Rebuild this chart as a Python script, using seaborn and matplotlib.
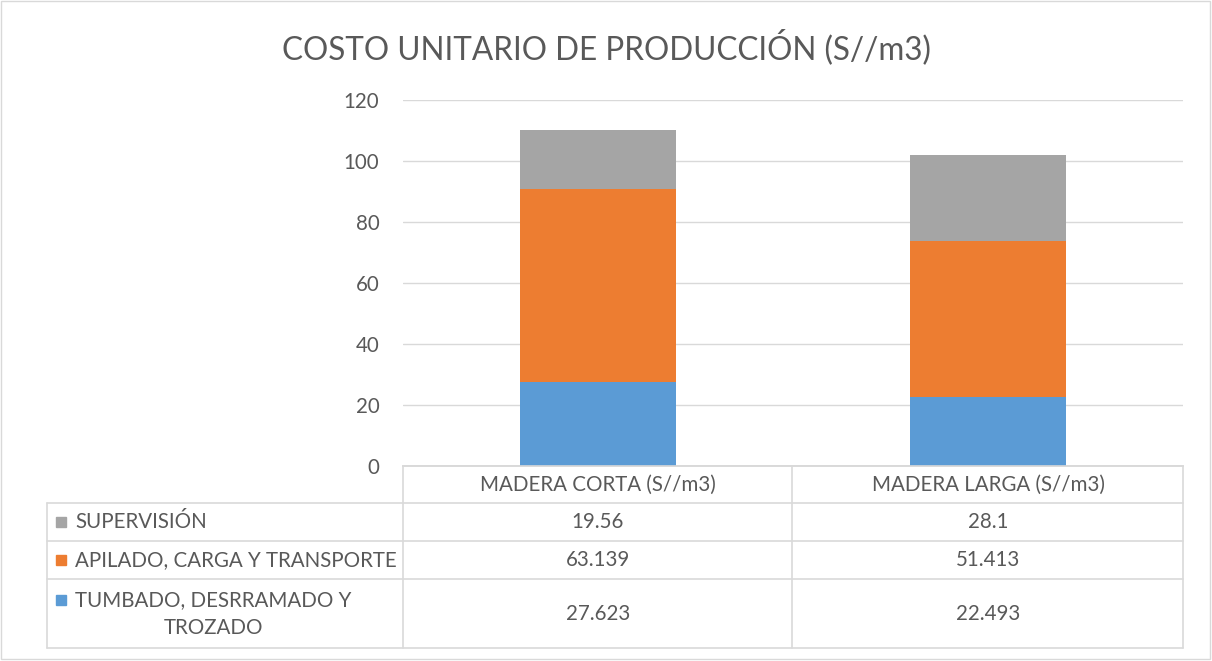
import matplotlib
matplotlib.use("Agg")
import matplotlib.pyplot as plt
import matplotlib.transforms as mtrans
from matplotlib.patches import Rectangle
from matplotlib.lines import Line2D
import pandas as pd
import seaborn as sns

# data
categories = ["MADERA CORTA (S//m3)", "MADERA LARGA (S//m3)"]
series = ["SUPERVISIÓN", "APILADO, CARGA Y TRANSPORTE", "TUMBADO, DESRRAMADO Y\nTROZADO"]
tumbado = [27.623, 22.493]
apilado = [63.139, 51.413]
supervision = [19.56, 28.1]
yticks = [0, 20, 40, 60, 80, 100, 120]

BLUE, ORANGE, GRAY = "#5B9BD5", "#ED7D31", "#A5A5A5"
TXT, GRID = "#595959", "#D9D9D9"
FS = 14.8

sns.set_theme(style="white")
plt.rcParams["font.family"] = ["Lato", "DejaVu Sans"]

W, H = 1212, 661
fig = plt.figure(figsize=(W / 100, H / 100), dpi=100)


def fx(px):
    return px / W


def fy(py):
    return 1 - py / H


ax = fig.add_axes([fx(403), fy(466), fx(1183) - fx(403), fy(100) - fy(466)])

df = pd.DataFrame({"cat": categories, "tumbado": tumbado,
                   "apilado": apilado, "supervision": supervision})
df["lvl2"] = df["tumbado"] + df["apilado"]
df["lvl3"] = df["lvl2"] + df["supervision"]

# stacked look: draw cumulative totals from tallest to shortest
for col, c in [("lvl3", GRAY), ("lvl2", ORANGE), ("tumbado", BLUE)]:
    sns.barplot(data=df, x="cat", y=col, color=c, width=0.4, saturation=1,
                linewidth=0, ax=ax, zorder=3)

ax.set_xlim(-0.5, 1.5)
ax.set_ylim(0, 120)
ax.set_yticks(yticks)
ax.set_yticklabels([str(v) for v in yticks], color=TXT, fontsize=FS)
ax.tick_params(axis="y", length=0, pad=17)
ax.set_xticks([])
ax.set_xlabel("")
ax.set_ylabel("")
ax.grid(axis="y", color=GRID, linewidth=1, zorder=0)
for s in ["top", "left", "right"]:
    ax.spines[s].set_visible(False)
ax.spines["bottom"].set_color(GRID)
ax.spines["bottom"].set_linewidth(1.2)

fig.text(0.5, fy(47), "COSTO UNITARIO DE PRODUCCIÓN (S//m3)", ha="center",
         va="center", fontsize=22.7, color=TXT)

# data table under the plot
def line(x0, y0, x1, y1):
    fig.add_artist(Line2D([fx(x0), fx(x1)], [fy(y0), fy(y1)], color=GRID, lw=1.2))

left, mid0, mid1, right = 47, 403, 792, 1183
rows = [466, 503, 541, 579, 648]
line(mid0, rows[0], right, rows[0])
for r in rows[1:]:
    line(left, r, right, r)
line(left, rows[1], left, rows[-1])
for xv in (mid0, mid1, right):
    line(xv, rows[0], xv, rows[-1])

tr = mtrans.blended_transform_factory(ax.transData, fig.transFigure)
for i, cat in enumerate(categories):
    fig.text(i, fy((rows[0] + rows[1]) / 2), cat, transform=tr, ha="center",
             va="center", fontsize=FS, color=TXT)

row_vals = [supervision, apilado, tumbado]
row_cols = [GRAY, ORANGE, BLUE]
for k, (name, vals, c) in enumerate(zip(series, row_vals, row_cols)):
    yc = fy((rows[k + 1] + rows[k + 2]) / 2)
    for i, v in enumerate(vals):
        fig.text(i, yc, f"{v:g}", transform=tr, ha="center", va="center",
                 fontsize=FS, color=TXT)
    if "\n" in name:
        l1, l2 = name.split("\n")
        fig.text(fx(75), fy(rows[k + 1] + 21), l1, ha="left", va="center",
                 fontsize=FS, color=TXT)
        fig.text(fx(213), fy(rows[k + 1] + 49), l2, ha="center", va="center",
                 fontsize=FS, color=TXT)
        ysq = rows[k + 1] + 21
    else:
        fig.text(fx(75), yc, name, ha="left", va="center", fontsize=FS, color=TXT)
        ysq = (rows[k + 1] + rows[k + 2]) / 2
    fig.add_artist(Rectangle((fx(56), fy(ysq + 5)), fx(10), fy(0) - fy(10),
                             transform=fig.transFigure, color=c))

# outer chart border
fig.add_artist(Rectangle((fx(1), fy(659)), fx(1209), fy(1) - fy(659),
                         transform=fig.transFigure, fill=False, ec=GRID, lw=1))

fig.savefig("out.png", dpi=100)
